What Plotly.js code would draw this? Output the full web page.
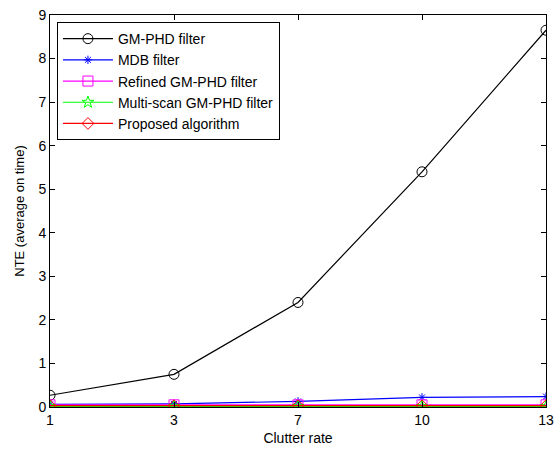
<!DOCTYPE html>
<html>
<head>
<meta charset="utf-8">
<script src="https://cdn.plot.ly/plotly-3.0.1.min.js"></script>
<style>html,body{margin:0;padding:0;background:#fff;}#chart{width:558px;height:450px;}</style>
</head>
<body>
<div id="chart"></div>
<script>
var clutterRates = ["1", "3", "7", "10", "13"];
var gmphd = [0.27, 0.75, 2.4, 5.4, 8.65];
var mdb = [0.06, 0.07, 0.13, 0.22, 0.24];
var refined = [0.05, 0.05, 0.05, 0.05, 0.05];
var multiScan = [0.01, 0.01, 0.01, 0.01, 0.01];
var proposed = [0.03, 0.03, 0.03, 0.03, 0.03];
var seriesNames = ["GM-PHD filter", "MDB filter", "Refined GM-PHD filter", "Multi-scan GM-PHD filter", "Proposed algorithm"];
var yTicks = [0, 1, 2, 3, 4, 5, 6, 7, 8, 9];

function tr(y, name, color, symbol, size) {
  return {
    x: clutterRates, y: y, name: name, type: 'scatter', mode: 'lines+markers',
    line: {color: color, width: 1.2},
    marker: {symbol: symbol, size: size, color: color, line: {color: color, width: 1}}
  };
}
var data = [
  tr(gmphd, seriesNames[0], '#000000', 'circle-open', 10),
  tr(mdb, seriesNames[1], '#0000ff', 'asterisk-open', 7),
  tr(refined, seriesNames[2], '#ff00ff', 'square-open', 10),
  tr(multiScan, seriesNames[3], '#00ff00', 'star-open', 9),
  tr(proposed, seriesNames[4], '#ff0000', 'diamond-open', 9)
];
var layout = {
  width: 558, height: 450,
  margin: {l: 50, r: 12, t: 15, b: 43},
  paper_bgcolor: '#ffffff', plot_bgcolor: '#ffffff',
  font: {family: 'Liberation Sans, Arial, sans-serif', size: 13, color: '#000'},
  showlegend: true,
  legend: {x: 0.014, y: 0.982, xanchor: 'left', yanchor: 'top', bordercolor: '#000', borderwidth: 1,
    bgcolor: '#fff', font: {size: 14}, itemwidth: 50, tracegroupgap: 0},
  xaxis: {
    type: 'category', range: [0, 4], showgrid: false, zeroline: false,
    showline: true, linecolor: '#000', linewidth: 1, mirror: 'ticks',
    ticks: 'inside', ticklen: 5, tickcolor: '#000', tickfont: {size: 14},
    title: {text: 'Clutter rate', font: {size: 14}, standoff: 6}
  },
  yaxis: {
    range: [0, 9], tickvals: yTicks, showgrid: false, zeroline: false,
    showline: true, linecolor: '#000', linewidth: 1, mirror: 'ticks',
    ticks: 'inside', ticklen: 5, tickcolor: '#000', tickfont: {size: 14},
    title: {text: 'NTE (average on time)', font: {size: 13}, standoff: 10}
  }
};
Plotly.newPlot('chart', data, layout, {displayModeBar: false, staticPlot: true});
</script>
</body>
</html>
